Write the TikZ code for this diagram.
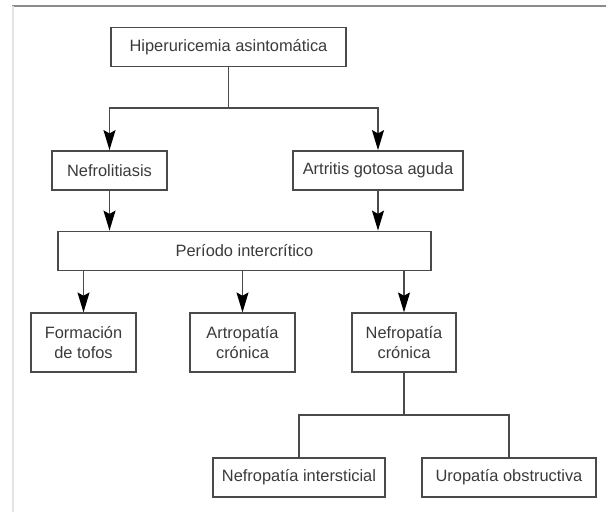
\documentclass[tikz,border=0pt]{standalone}
\usepackage{fontspec}
\setmainfont{Liberation Sans}
\usepackage{tikz}
\usetikzlibrary{arrows.meta}
\definecolor{linegray}{HTML}{4A4A4A}
\definecolor{textgray}{HTML}{3A3A3A}
\definecolor{rulegray}{HTML}{8C8C8C}
\definecolor{edgegray}{HTML}{E4E4E4}

\begin{document}
\begin{tikzpicture}[x=0.75pt,y=-0.75pt]
		\tikzstyle{stage}=[draw=linegray,line width=1.1pt,rectangle,align=center,text=textgray,font=\fontsize{12.3}{14.5}\selectfont,inner sep=2pt,minimum height=29.5pt]
		\tikzstyle{tall}=[minimum height=44pt]
		\tikzstyle{leadsto}=[draw=linegray,line width=1.1pt,-{Stealth[length=15pt,width=9pt,inset=2.5pt,color=black]}]
		\tikzstyle{branch}=[draw=linegray,line width=1.1pt]
		\useasboundingbox (0,0) rectangle (606,512);
		% frame
		\draw [rulegray,line width=1.5pt] (12,6) -- (606,6);
		\draw [edgegray,line width=0.8pt] (13,6) -- (13,512);
		% top
		\node [stage,minimum width=176pt] at (228.5,47) (hiper) {Hiperuricemia asintomática};
		\coordinate (split) at (228.5,108);
		% first crisis
		\node [stage,minimum width=86pt] at (109.5,170.5) (nefro) {Nefrolitiasis};
		\node [stage,minimum width=127.5pt] at (378,170.5) (artri) {Artritis gotosa aguda};
		% intercritical
		\node [stage,minimum width=280pt] at (244.5,251) (periodo) {Período intercrítico};
		% chronic
		\node [stage,tall,minimum width=79pt] at (83.5,342.5) (tofos) {Formación\\de tofos};
		\node [stage,tall,minimum width=79pt] at (242.5,342.5) (artro) {Artropatía\\crónica};
		\node [stage,tall,minimum width=78pt] at (404,342.5) (nefrocr) {Nefropatía\\crónica};
		\coordinate (split2) at (404,415);
		% renal
		\node [stage,minimum width=129pt] at (299,477.5) (inter) {Nefropatía intersticial};
		\node [stage,minimum width=130.5pt] at (509,477.5) (uro) {Uropatía obstructiva};
		% connectors
		\draw [branch] (hiper.south) -- (split);
		\draw [leadsto] (split) -| (nefro.north);
		\draw [leadsto] (split) -| (artri.north);
		\draw [leadsto] (nefro.south) -- (nefro.south |- periodo.north);
		\draw [leadsto] (artri.south) -- (artri.south |- periodo.north);
		\draw [leadsto] (periodo.south -| tofos.north) -- (tofos.north);
		\draw [leadsto] (periodo.south -| artro.north) -- (artro.north);
		\draw [leadsto] (periodo.south -| nefrocr.north) -- (nefrocr.north);
		\draw [branch] (nefrocr.south) -- (split2);
		\draw [branch] (split2) -| (inter.north);
		\draw [branch] (split2) -| (uro.north);
	\end{tikzpicture}
\end{document}
